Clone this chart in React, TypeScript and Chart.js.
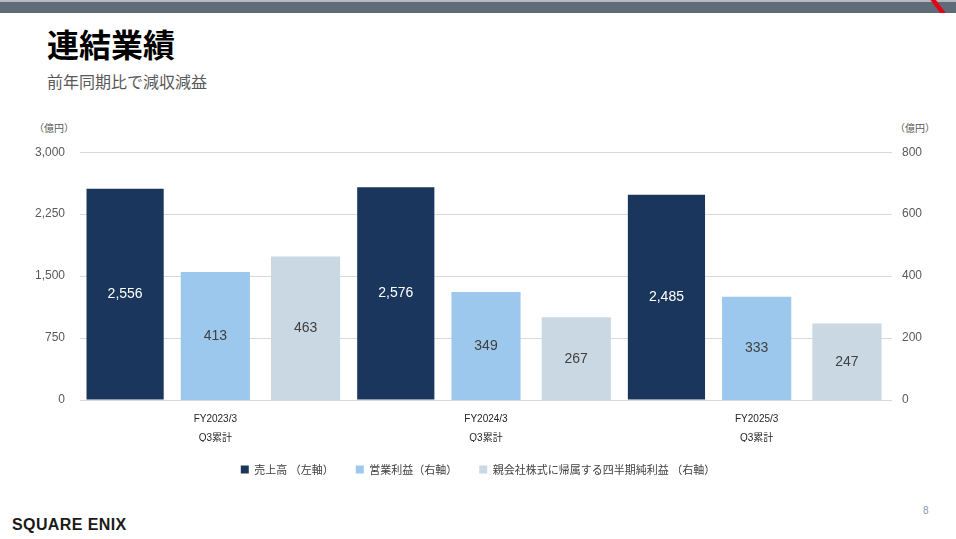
import React, { useEffect, useRef } from "react";
import { Chart, registerables } from "chart.js";

Chart.register(...registerables);

const categories = [
  ["FY2023/3", "Q3累計"],
  ["FY2024/3", "Q3累計"],
  ["FY2025/3", "Q3累計"],
];
const seriesNames = [
  "売上高 （左軸）",
  "営業利益（右軸）",
  "親会社株式に帰属する四半期純利益 （右軸）",
];
const sales = [2556, 2576, 2485];
const operatingIncome = [413, 349, 333];
const netIncome = [463, 267, 247];
const leftMax = 3000;
const leftStep = 750;
const rightMax = 800;
const rightStep = 200;

const FONT = "'Liberation Sans', Arial, 'Noto Sans CJK JP', sans-serif";
const JFONT = "'Noto Sans CJK JP', 'Liberation Sans', sans-serif";

const barLabels = {
  id: "barLabels",
  afterDatasetsDraw(chart: any) {
    const ctx = chart.ctx;
    chart.data.datasets.forEach((ds: any, i: number) => {
      const meta = chart.getDatasetMeta(i);
      meta.data.forEach((el: any, j: number) => {
        const v = ds.data[j];
        ctx.save();
        ctx.fillStyle = i === 0 ? "#ffffff" : "#404040";
        ctx.font = `14px ${FONT}`;
        ctx.textAlign = "center";
        ctx.textBaseline = "middle";
        ctx.fillText(Number(v).toLocaleString("en-US"), el.x, (el.y + el.base) / 2);
        ctx.restore();
      });
    });
  },
};

export default function App() {
  const ref = useRef<HTMLCanvasElement | null>(null);
  useEffect(() => {
    if (!ref.current) return;
    const chart = new Chart(ref.current, {
      type: "bar",
      data: {
        labels: categories as any,
        datasets: [
          {
            label: seriesNames[0],
            data: sales,
            backgroundColor: "#1a365d",
            yAxisID: "y",
            barPercentage: 77 / 90,
            categoryPercentage: 1,
          },
          {
            label: seriesNames[1],
            data: operatingIncome,
            backgroundColor: "#9dc8ed",
            yAxisID: "y1",
            barPercentage: 69 / 90,
            categoryPercentage: 1,
          },
          {
            label: seriesNames[2],
            data: netIncome,
            backgroundColor: "#c9d8e2",
            yAxisID: "y1",
            barPercentage: 69 / 90,
            categoryPercentage: 1,
          },
        ],
      },
      options: {
        animation: false,
        responsive: false,
        maintainAspectRatio: false,
        layout: { padding: { top: 12, left: 0, right: 0, bottom: 0 } },
        plugins: {
          legend: {
            position: "bottom",
            labels: {
              boxWidth: 8,
              boxHeight: 8,
              padding: 22,
              color: "#404040",
              font: { size: 11, family: JFONT },
            },
          },
          tooltip: { enabled: false },
        },
        scales: {
          x: {
            grid: { display: false, drawTicks: false },
            border: { display: false },
            ticks: {
              color: "#262626",
              padding: 10,
              font: { size: 10, family: FONT, lineHeight: 1.9 },
              maxRotation: 0,
            },
            afterFit(scale: any) {
              scale.height = 42;
            },
          },
          y: {
            position: "left",
            min: 0,
            max: leftMax,
            grid: { color: "#d9d9d9", drawTicks: false },
            border: { display: false },
            ticks: {
              stepSize: leftStep,
              padding: 15,
              color: "#595959",
              font: { size: 12, family: FONT },
              callback: (v: any) => Number(v).toLocaleString("en-US"),
            },
            afterFit(scale: any) {
              scale.width = 80;
            },
          },
          y1: {
            position: "right",
            min: 0,
            max: rightMax,
            grid: { display: false, drawTicks: false },
            border: { display: false },
            ticks: {
              stepSize: rightStep,
              padding: 10,
              color: "#595959",
              font: { size: 12, family: FONT },
              callback: (v: any) => Number(v).toLocaleString("en-US"),
            },
            afterFit(scale: any) {
              scale.width = 64;
            },
          },
        },
      },
      plugins: [barLabels],
    } as any);
    return () => chart.destroy();
  }, []);

  return (
    <div
      style={{
        position: "fixed",
        left: 0,
        top: 0,
        width: 956,
        height: 539,
        background: "#ffffff",
        overflow: "hidden",
      }}
    >
      <div style={{ position: "absolute", left: 0, top: 0, width: 956, height: 2, background: "#b4bac1" }} />
      <div style={{ position: "absolute", left: 0, top: 2, width: 956, height: 11, background: "#5f6b78" }} />
      <div
        style={{
          position: "absolute",
          left: 926,
          top: 0,
          width: 22,
          height: 13,
          background: "#e60012",
          clipPath: "polygon(20% 0, 45% 0, 90% 100%, 65% 100%)",
        }}
      />
      <div
        style={{
          position: "absolute",
          left: 47,
          top: 25,
          fontFamily: JFONT,
          fontWeight: 700,
          fontSize: 32,
          lineHeight: "36px",
          color: "#000000",
        }}
      >
        連結業績
      </div>
      <div
        style={{
          position: "absolute",
          left: 47,
          top: 71,
          fontFamily: JFONT,
          fontSize: 16,
          lineHeight: "20px",
          color: "#595959",
        }}
      >
        前年同期比で減収減益
      </div>
      <div
        style={{
          position: "absolute",
          left: 34,
          top: 121,
          fontFamily: JFONT,
          fontSize: 10,
          lineHeight: "14px",
          color: "#595959",
        }}
      >
        （億円）
      </div>
      <div
        style={{
          position: "absolute",
          left: 895,
          top: 121,
          fontFamily: JFONT,
          fontSize: 10,
          lineHeight: "14px",
          color: "#595959",
        }}
      >
        （億円）
      </div>
      <canvas
        ref={ref}
        width={956}
        height={355}
        style={{ position: "absolute", left: 0, top: 130, width: 956, height: 355 }}
      />
      <div
        style={{
          position: "absolute",
          left: 923,
          top: 504,
          fontFamily: FONT,
          fontSize: 10,
          lineHeight: "14px",
          color: "#8497b0",
        }}
      >
        8
      </div>
      <div
        style={{
          position: "absolute",
          left: 12,
          top: 516,
          fontFamily: "'Liberation Sans', Arial, sans-serif",
          fontWeight: 700,
          fontSize: 16,
          lineHeight: "18px",
          letterSpacing: 0.4,
          color: "#1a1a1a",
        }}
      >
        SQUARE ENIX
      </div>
    </div>
  );
}
